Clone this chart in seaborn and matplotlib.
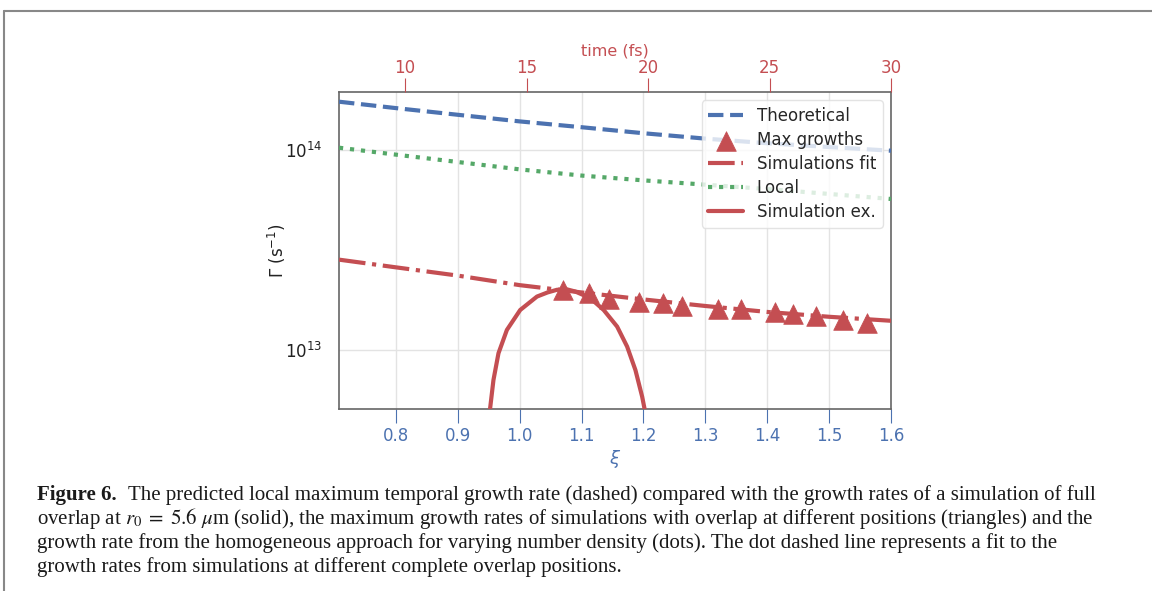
import matplotlib
matplotlib.use("Agg")
import matplotlib.pyplot as plt
from matplotlib.lines import Line2D
import seaborn as sns
import numpy as np

# ---------------- data ----------------
xi_grid = [0.708, 0.8, 0.9, 1.0, 1.1, 1.2, 1.3, 1.4, 1.5, 1.6]
theoretical = [1.744e14, 1.62e14, 1.50e14, 1.39e14, 1.30e14, 1.213e14, 1.14e14, 1.081e14, 1.035e14, 0.992e14]
local_rate = [1.027e14, 9.48e13, 8.71e13, 8.0e13, 7.45e13, 7.05e13, 6.71e13, 6.38e13, 6.03e13, 5.69e13]
sim_fit = [2.83e13, 2.59e13, 2.355e13, 2.11e13, 1.94e13, 1.79e13, 1.66e13, 1.55e13, 1.466e13, 1.40e13]

xi_max = [1.070, 1.112, 1.145, 1.193, 1.232, 1.263, 1.321, 1.357, 1.412, 1.442, 1.478, 1.523, 1.561]
max_growth = [2.0e13, 1.92e13, 1.79e13, 1.74e13, 1.71e13, 1.66e13, 1.60e13, 1.60e13, 1.54e13, 1.51e13, 1.48e13, 1.42e13, 1.37e13]

xi_sim = [0.951, 0.9522, 0.9576, 0.9657, 0.9793, 1.0008, 1.0279, 1.0450, 1.0602, 1.0764, 1.0900, 1.1033, 1.1200, 1.1357,
          1.1574, 1.1736, 1.1870, 1.1979, 1.2016, 1.2025]
sim_ex = [4.8e12, 5.11e12, 7.08e12, 9.63e12, 1.26e13, 1.585e13, 1.85e13, 1.94e13, 2.0e13, 2.01e13, 1.96e13, 1.88e13, 1.75e13, 1.585e13,
          1.31e13, 1.04e13, 7.94e12, 5.84e12, 5.11e12, 4.8e12]

time_ticks = [10, 15, 20, 25, 30]
xi_ticks = [0.8, 0.9, 1.0, 1.1, 1.2, 1.3, 1.4, 1.5, 1.6]

BLUE = "#4C72B0"
GREEN = "#55A868"
RED = "#C44E52"

# ---------------- style ----------------
sns.set_theme(style="whitegrid")
plt.rcParams["font.family"] = ["DejaVu Sans"]

W, H = 1152, 591
fig = plt.figure(figsize=(W / 100, H / 100), dpi=100)
ax = fig.add_axes([339 / W, 1 - 409 / H, (891 - 339) / W, (409 - 92) / H])

sns.lineplot(x=xi_grid, y=theoretical, ax=ax, color=BLUE, lw=3, linestyle="--", label="Theoretical", zorder=3)
sns.scatterplot(x=xi_max, y=max_growth, ax=ax, color=RED, marker="^", s=200, edgecolor=RED, linewidth=0.5,
                label="Max growths", zorder=5)
sns.lineplot(x=xi_grid, y=sim_fit, ax=ax, color=RED, lw=3, linestyle="-.", label="Simulations fit", zorder=3)
sns.lineplot(x=xi_grid, y=local_rate, ax=ax, color=GREEN, lw=3, linestyle=":", label="Local", zorder=3)
sns.lineplot(x=xi_sim, y=sim_ex, ax=ax, color=RED, lw=3, linestyle="-", label="Simulation ex.", zorder=4, sort=False)

ax.set_yscale("log")
ax.set_xlim(0.708, 1.6)
ax.set_ylim(5.07e12, 1.95e14)
ax.set_xticks(xi_ticks)
ax.set_xticklabels([f"{v:.1f}" for v in xi_ticks])
ax.yaxis.set_minor_locator(matplotlib.ticker.NullLocator())

for s in ax.spines.values():
    s.set_color("#666666")
    s.set_linewidth(1.2)
ax.grid(True, which="major", color="#e3e3e3", lw=1.0)
ax.tick_params(axis="x", bottom=True, colors=BLUE, labelcolor=BLUE, length=10, width=0.8, pad=3, labelsize=12)
ax.tick_params(axis="y", left=False, labelsize=12, pad=6, labelcolor="#222222")
ax.set_xlabel(r"$\xi$", color=BLUE, fontsize=13, labelpad=2)
ax.set_ylabel(r"$\Gamma$ (s$^{-1}$)", fontsize=12, labelpad=-2, color="#222222")

ax2 = ax.twiny()
ax2.set_xlim(7.28, 30)
ax2.set_xticks(time_ticks)
ax2.grid(False)
for s in ax2.spines.values():
    s.set_visible(False)
ax2.tick_params(axis="x", top=True, colors=RED, labelcolor=RED, length=10, width=0.8, pad=1, labelsize=12)
ax2.set_xlabel("time (fs)", color=RED, fontsize=11.5, labelpad=2)

leg = ax.legend(loc="upper right", fontsize=12, labelspacing=0.36, handlelength=2.1, handletextpad=0.8,
                framealpha=0.8, edgecolor="#dddddd", borderpad=0.4)
leg.set_zorder(10)

# ---------------- caption & frame ----------------
fig.add_artist(Line2D([4 / W, 1], [1 - 11 / H, 1 - 11 / H], transform=fig.transFigure, color="#888888", lw=1.5))
fig.add_artist(Line2D([4 / W, 4 / W], [0, 1 - 11 / H], transform=fig.transFigure, color="#888888", lw=1.5))

cap_font = dict(family="Liberation Serif", fontsize=15, color="#1a1a1a", va="baseline", ha="left")
fig.text(37 / W, 1 - 500 / H, "Figure 6.", fontweight="bold", **cap_font)
fig.text(128 / W, 1 - 500 / H,
         "The predicted local maximum temporal growth rate (dashed) compared with the growth rates of a simulation of full",
         **cap_font)
fig.text(37 / W, 1 - 524 / H,
         r"overlap at $r_0\;=\;5.6\ \mu$m (solid), the maximum growth rates of simulations with overlap at different positions (triangles) and the",
         math_fontfamily="stix", **cap_font)
fig.text(37 / W, 1 - 548 / H,
         "growth rate from the homogeneous approach for varying number density (dots). The dot dashed line represents a fit to the",
         **cap_font)
fig.text(37 / W, 1 - 572 / H,
         "growth rates from simulations at different complete overlap positions.",
         **cap_font)

fig.savefig("out.png", dpi=100)
